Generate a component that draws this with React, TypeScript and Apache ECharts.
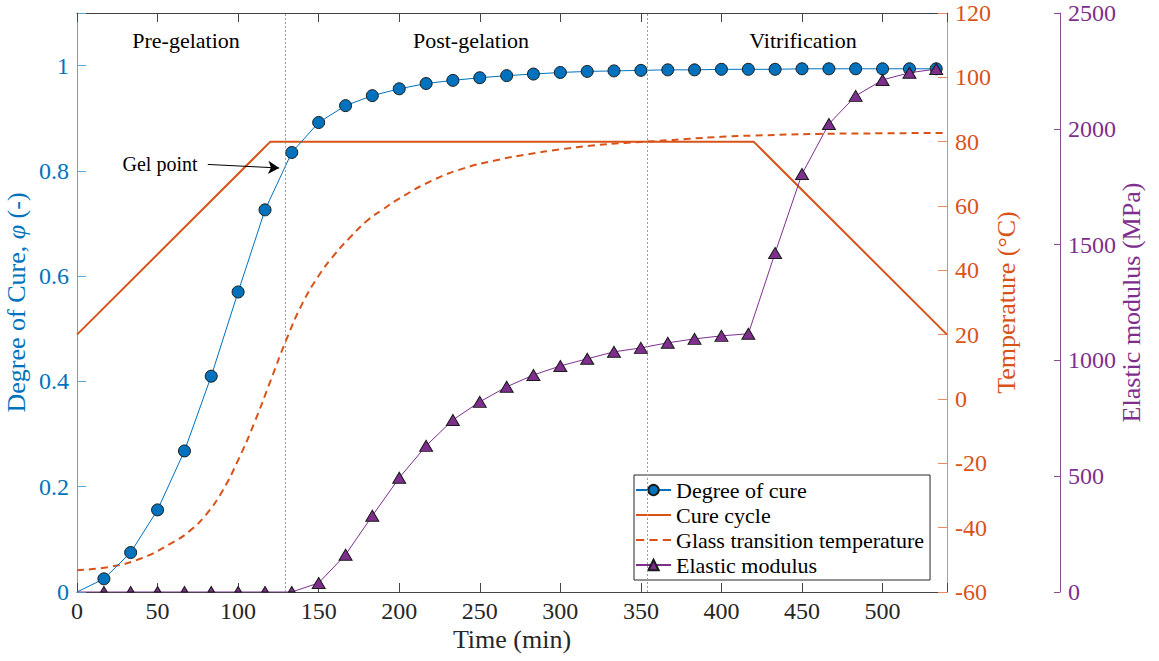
import React, { useEffect, useRef } from 'react';
import * as echarts from 'echarts';

const FONT = 'Liberation Serif, serif';
const BLUE = '#0072BD';
const ORANGE = '#D95319';
const PURPLE = '#7E2F8E';
const DARK = '#262626';

// Sample times (min) of the cure / modulus measurements
const sampleTimes = [
  0, 16.7, 33.3, 50, 66.7, 83.3, 100, 116.7, 133.3, 150, 166.7, 183.3, 200,
  216.7, 233.3, 250, 266.7, 283.3, 300, 316.7, 333.3, 350, 366.7, 383.3, 400,
  416.7, 433.3, 450, 466.7, 483.3, 500, 516.7, 533.3,
];
const degreeOfCure = [
  0, 0.025, 0.075, 0.156, 0.268, 0.41, 0.57, 0.726, 0.835, 0.892, 0.924, 0.943,
  0.956, 0.966, 0.972, 0.977, 0.981, 0.984, 0.987, 0.989, 0.99, 0.991, 0.992,
  0.992, 0.993, 0.993, 0.993, 0.994, 0.994, 0.994, 0.994, 0.994, 0.994,
];
const elasticModulus = [
  0, 0, 0, 0, 0, 0, 0, 0, 0, 39, 161, 329, 493, 631, 743, 821, 886, 937, 976,
  1007, 1037, 1054, 1076, 1093, 1106, 1115, 1464, 1805, 2021, 2142, 2211, 2242,
  2258,
];

// Cure cycle (temperature programme)
const cureCycleTimes = [0, 120, 420, 540];
const cureCycleTemps = [20, 80, 80, 20];

// Glass transition temperature
const tgTimes = [
  0, 20, 40, 60, 70, 80, 90, 100, 110, 120, 130, 140, 150, 160, 170, 180, 190,
  200, 220, 240, 260, 280, 300, 320, 340, 360, 380, 400, 420, 460, 500, 540,
];
const tgValues = [
  -53.2, -52.2, -49.5, -44.4, -41.0, -36.0, -28.8, -19.0, -7.5, 5.5, 18.5,
  29.8, 38.3, 45.0, 50.5, 55.4, 59.0, 62.3, 67.8, 71.7, 74.2, 76.1, 77.6, 78.8,
  79.6, 80.2, 80.9, 81.5, 81.9, 82.4, 82.6, 82.7,
];

// Phase boundaries (min) and labels
const phaseBoundaries = [129.5, 353.7];
const phaseLabels = ['Pre-gelation', 'Post-gelation', 'Vitrification'];
const gelArrow = [
  [81.2, 0.8123],
  [125.5, 0.8055],
];

const seriesNames = [
  'Degree of cure',
  'Cure cycle',
  'Glass transition temperature',
  'Elastic modulus',
];

export default function App() {
  const ref = useRef<HTMLDivElement>(null);

  useEffect(() => {
    if (!ref.current) return;
    const chart = echarts.init(ref.current, undefined, { renderer: 'svg' });

    const cureData = sampleTimes.map((t, i) =>
      i === 0 ? { value: [t, degreeOfCure[i]], symbol: 'none' } : [t, degreeOfCure[i]]
    );
    const modData = sampleTimes.map((t, i) => {
      const v = elasticModulus[i];
      if (i === 0) return { value: [t, v], symbol: 'none' };
      if (v === 0)
        return { value: [t, v], symbolSize: [6.5, 5.5], symbolOffset: [0, -2.75] };
      return [t, v];
    });

    const axisLabelBase = { fontFamily: FONT, fontSize: 24 };
    const nameStyle = (color: string) => ({
      fontFamily: FONT,
      fontSize: 26,
      color,
      rich: { i: { fontFamily: FONT, fontSize: 26, fontStyle: 'italic', color } },
    });

    const option: any = {
      animation: false,
      backgroundColor: '#ffffff',
      textStyle: { fontFamily: FONT },
      grid: {
        left: 77,
        right: 212,
        top: 13,
        bottom: 69,
        containLabel: false,
        outerBoundsMode: 'none',
      },
      legend: {
        data: [
          { name: seriesNames[0] },
          { name: seriesNames[1], icon: 'path://M0,0 L35,0 L35,2 L0,2 Z' },
          {
            name: seriesNames[2],
            icon: 'path://M0,0 h8 v2 h-8 Z M13,0 h8 v2 h-8 Z M26,0 h8 v2 h-8 Z',
          },
          { name: seriesNames[3] },
        ],
        orient: 'vertical',
        left: 634,
        top: 475,
        itemWidth: 35,
        itemHeight: 13,
        itemGap: 3,
        padding: [4, 6, 4, 1],
        borderColor: DARK,
        borderWidth: 1,
        borderRadius: 0,
        backgroundColor: '#ffffff',
        textStyle: { fontFamily: FONT, fontSize: 22, color: '#000' },
      },
      xAxis: [
        {
          type: 'value',
          min: 0,
          max: 540,
          interval: 50,
          position: 'bottom',
          axisLine: { show: true, onZero: false, lineStyle: { color: '#444', width: 1 } },
          axisTick: { show: true, inside: true, length: 9, lineStyle: { color: '#444' } },
          axisLabel: {
            ...axisLabelBase,
            color: DARK,
            margin: 7,
            formatter: (v: number) => (v % 50 === 0 ? String(v) : ''),
          },
          splitLine: { show: false },
          name: 'Time (min)',
          nameLocation: 'middle',
          nameGap: 34,
          nameMoveOverlap: false,
          nameTextStyle: nameStyle(DARK),
        },
        {
          type: 'value',
          min: 0,
          max: 540,
          interval: 50,
          position: 'top',
          axisLine: { show: true, onZero: false, lineStyle: { color: '#444', width: 1 } },
          axisTick: { show: true, inside: true, length: 9, lineStyle: { color: '#444' } },
          axisLabel: { show: false },
          splitLine: { show: false },
        },
      ],
      yAxis: [
        {
          type: 'value',
          min: 0,
          max: 1.1,
          interval: 0.2,
          position: 'left',
          axisLine: { show: true, onZero: false, lineStyle: { color: '#5FA6DC', width: 1 } },
          axisTick: { show: true, inside: true, length: 9, lineStyle: { color: '#5FA6DC' } },
          axisLabel: {
            ...axisLabelBase,
            color: BLUE,
            margin: 8,
            formatter: (v: number) => (v > 1.05 ? '' : String(Number(v.toFixed(1)))),
          },
          splitLine: { show: false },
          name: 'Degree of Cure, {i|φ} (-)',
          nameLocation: 'middle',
          nameRotate: 90,
          nameGap: 48,
          nameMoveOverlap: false,
          nameTextStyle: nameStyle(BLUE),
        },
        {
          type: 'value',
          min: -60,
          max: 120,
          interval: 20,
          position: 'right',
          axisLine: { show: true, onZero: false, lineStyle: { color: '#E98A62', width: 1 } },
          axisTick: { show: true, inside: true, length: 9, lineStyle: { color: '#E98A62' } },
          axisLabel: { ...axisLabelBase, color: ORANGE, margin: 8, formatter: (v: number) => String(v) },
          splitLine: { show: false },
          name: 'Temperature (°C)',
          nameLocation: 'middle',
          nameRotate: 90,
          nameGap: 46,
          nameMoveOverlap: false,
          nameTextStyle: nameStyle(ORANGE),
        },
        {
          type: 'value',
          min: 0,
          max: 2500,
          interval: 500,
          position: 'right',
          offset: 113,
          axisLine: { show: true, onZero: false, lineStyle: { color: '#8A4A98', width: 1 } },
          axisTick: { show: true, inside: true, length: 6, lineStyle: { color: '#8A4A98' } },
          axisLabel: { ...axisLabelBase, color: PURPLE, margin: 8, formatter: (v: number) => String(v) },
          splitLine: { show: false },
          name: 'Elastic modulus (MPa)',
          nameLocation: 'middle',
          nameRotate: 90,
          nameGap: 58,
          nameMoveOverlap: false,
          nameTextStyle: nameStyle(PURPLE),
        },
      ],
      series: [
        {
          name: seriesNames[0],
          type: 'line',
          xAxisIndex: 0,
          yAxisIndex: 0,
          data: cureData,
          symbol: 'circle',
          symbolSize: 12,
          itemStyle: { color: BLUE, borderColor: '#1a1a1a', borderWidth: 1 },
          lineStyle: { color: BLUE, width: 1 },
          z: 3,
          markLine: {
            silent: true,
            symbol: ['none', 'arrow'],
            symbolSize: [10, 11],
            label: { show: false },
            lineStyle: { color: '#000', width: 1, type: 'solid' },
            data: [[{ coord: gelArrow[0] }, { coord: gelArrow[1] }]],
          },
        },
        {
          name: seriesNames[1],
          type: 'line',
          xAxisIndex: 0,
          yAxisIndex: 1,
          data: cureCycleTimes.map((t, i) => [t, cureCycleTemps[i]]),
          symbol: 'none',
          itemStyle: { color: ORANGE },
          lineStyle: { color: ORANGE, width: 2 },
          z: 2,
          markLine: {
            silent: true,
            symbol: ['none', 'none'],
            label: { show: false },
            lineStyle: { color: '#9a9a9a', width: 1, type: [2, 2] },
            data: phaseBoundaries.map((x) => ({ xAxis: x })),
          },
        },
        {
          name: seriesNames[2],
          type: 'line',
          xAxisIndex: 0,
          yAxisIndex: 1,
          data: tgTimes.map((t, i) => [t, tgValues[i]]),
          symbol: 'none',
          smooth: 0.5,
          itemStyle: { color: ORANGE },
          lineStyle: { color: ORANGE, width: 2, type: [7, 5] },
          z: 2,
        },
        {
          name: seriesNames[3],
          type: 'line',
          xAxisIndex: 0,
          yAxisIndex: 2,
          data: modData,
          symbol: 'triangle',
          symbolSize: [13, 11],
          itemStyle: { color: PURPLE, borderColor: '#1a1a1a', borderWidth: 1 },
          lineStyle: { color: PURPLE, width: 1 },
          z: 4,
        },
      ],
      graphic: [
        {
          type: 'text',
          x: 186,
          y: 40,
          style: { text: phaseLabels[0], fontFamily: FONT, fontSize: 22, fill: '#000', align: 'center', verticalAlign: 'middle' },
        },
        {
          type: 'text',
          x: 471,
          y: 40,
          style: { text: phaseLabels[1], fontFamily: FONT, fontSize: 22, fill: '#000', align: 'center', verticalAlign: 'middle' },
        },
        {
          type: 'text',
          x: 803,
          y: 40,
          style: { text: phaseLabels[2], fontFamily: FONT, fontSize: 22, fill: '#000', align: 'center', verticalAlign: 'middle' },
        },
        {
          type: 'text',
          x: 160,
          y: 164,
          style: { text: 'Gel point', fontFamily: FONT, fontSize: 20, fill: '#000', align: 'center', verticalAlign: 'middle' },
        },
      ],
    };

    chart.setOption(option);
    return () => chart.dispose();
  }, []);

  return (
    <div
      ref={ref}
      style={{ position: 'fixed', left: 0, top: 0, width: 1159, height: 661, background: '#fff' }}
    />
  );
}
